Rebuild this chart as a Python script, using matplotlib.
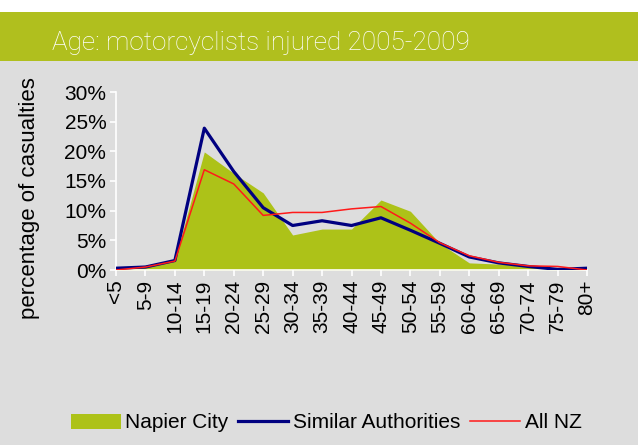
import matplotlib
matplotlib.use("Agg")
import matplotlib.pyplot as plt
from matplotlib.patches import Rectangle, Patch
from matplotlib.lines import Line2D
from matplotlib.ticker import FuncFormatter

# age groups and % of casualties
ages = ["<5", "5-9", "10-14", "15-19", "20-24", "25-29", "30-34", "35-39",
        "40-44", "45-49", "50-54", "55-59", "60-64", "65-69", "70-74",
        "75-79", "80+"]
napier = [0.2, 0.8, 1.7, 19.9, 16.3, 13.0, 5.9, 6.9, 6.9, 11.8, 9.9, 4.5,
          1.2, 1.0, 0.9, 0.3, 0.0]
similar = [0.3, 0.5, 1.6, 23.9, 16.6, 10.5, 7.5, 8.3, 7.5, 8.8, 6.7, 4.5,
           2.2, 1.2, 0.6, 0.1, 0.3]
all_nz = [0.0, 0.5, 1.5, 16.9, 14.5, 9.2, 9.7, 9.7, 10.3, 10.7, 7.9, 4.6,
          2.4, 1.3, 0.7, 0.6, 0.0]

bg = "#dddddd"
green = "#adc218"
navy = "#000080"
red = "#ff1a1a"
fs = 15

fig = plt.figure(figsize=(6.38, 4.45), dpi=100)
fig.patch.set_facecolor(bg)

# white strip at top and green title bar
fig.patches.append(Rectangle((0, 1 - 12 / 445), 1, 12 / 445, transform=fig.transFigure,
                             facecolor="white", edgecolor="none", zorder=0))
fig.patches.append(Rectangle((0, 1 - 61 / 445), 1, 49 / 445, transform=fig.transFigure,
                             facecolor="#b0bf1e", edgecolor="none", zorder=0))
fig.text(52 / 638, 1 - 50 / 445, "Age: motorcyclists injured 2005-2009", color="white",
         fontsize=18.8, family="Roboto", fontweight="light", ha="left",
         va="baseline")

ax = fig.add_axes([116 / 638, 175 / 445, 471 / 638, 178 / 445])
ax.set_facecolor(bg)
x = list(range(len(ages)))

ax.fill_between(x, napier, 0, color=green, linewidth=0, zorder=1)
ax.plot(x, similar, color=navy, linewidth=2.3, zorder=3)
ax.plot(x, all_nz, color=red, linewidth=1.1, zorder=4)

ax.set_xlim(0, len(ages) - 1)
ax.set_ylim(0, 30)
ax.set_yticks([0, 5, 10, 15, 20, 25, 30])
ax.yaxis.set_major_formatter(FuncFormatter(lambda v, p: "%d%%" % v))
ax.set_xticks(x)
ax.set_xticklabels(ages, rotation=90)

for s in ["top", "right"]:
    ax.spines[s].set_visible(False)
for s in ["left", "bottom"]:
    ax.spines[s].set_color("white")
    ax.spines[s].set_linewidth(1.2)
ax.tick_params(colors="white", length=4, width=1.2, labelcolor="black",
               labelsize=fs, pad=3)
for lab in ax.get_xticklabels() + ax.get_yticklabels():
    lab.set_family("Liberation Sans")

ax.set_ylabel("percentage of casualties", fontsize=16, family="Liberation Sans",
              va="center")
ax.yaxis.set_label_coords(-86 / 471, 72 / 178)

handles = [Patch(facecolor=green, edgecolor="none"),
           Line2D([], [], color=navy, linewidth=2.3),
           Line2D([], [], color=red, linewidth=1.1)]
fig.legend(handles, ["Napier City", "Similar Authorities", "All NZ"],
           loc="center", bbox_to_anchor=(326 / 638, 1 - 423 / 445), ncol=3,
           frameon=False, prop={"family": "Liberation Sans", "size": fs},
           handlelength=2.4, handleheight=0.75, handletextpad=0.2,
           columnspacing=0.5)

fig.savefig("out.png", dpi=100, facecolor=bg)
